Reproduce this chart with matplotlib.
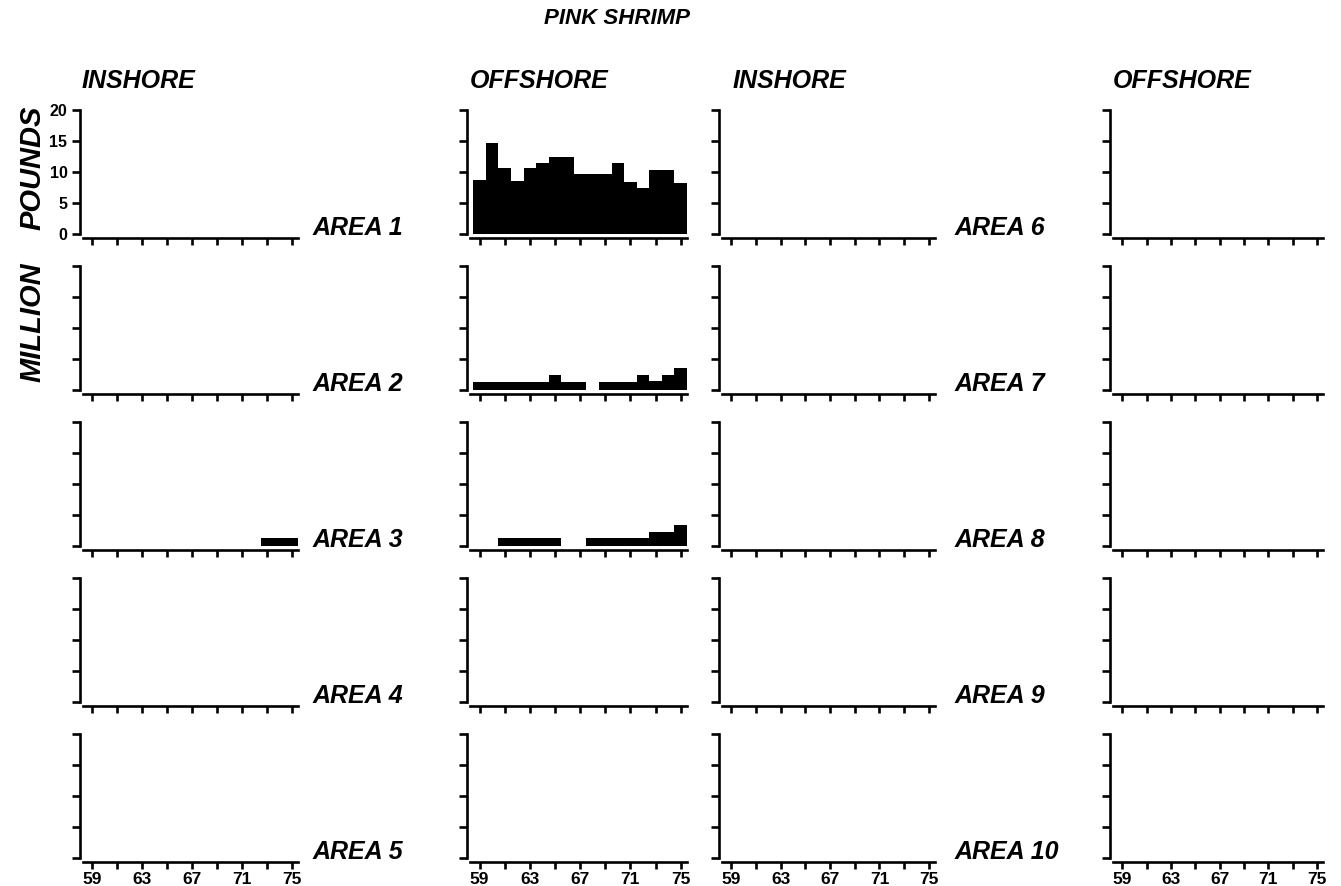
import matplotlib
matplotlib.use("Agg")
import matplotlib.pyplot as plt

plt.rcParams['font.family'] = ['Liberation Sans', 'DejaVu Sans']

# Annual pink shrimp landings, million pounds, 1959-1975
years = [1959, 1960, 1961, 1962, 1963, 1964, 1965, 1966, 1967,
         1968, 1969, 1970, 1971, 1972, 1973, 1974, 1975]

zero_catch = [0, 0, 0, 0, 0, 0, 0, 0, 0, 0, 0, 0, 0, 0, 0, 0, 0]

area1_offshore = [8.7, 14.6, 10.6, 8.5, 10.6, 11.4, 12.5, 12.5, 9.7,
                  9.7, 9.7, 11.5, 8.4, 7.5, 10.3, 10.3, 8.3]
area2_offshore = [1.3, 1.3, 1.3, 1.3, 1.3, 1.3, 2.4, 1.3, 1.3,
                  0.0, 1.3, 1.3, 1.3, 2.4, 1.5, 2.5, 3.5]
area3_offshore = [0.0, 0.0, 1.3, 1.3, 1.3, 1.3, 1.3, 0.0, 0.0,
                  1.3, 1.3, 1.3, 1.3, 1.3, 2.3, 2.3, 3.4]
area3_inshore = [0, 0, 0, 0, 0, 0, 0, 0, 0,
                 0, 0, 0, 0, 0, 1.3, 1.3, 1.3]

areas_left = ["AREA 1", "AREA 2", "AREA 3", "AREA 4", "AREA 5"]
areas_right = ["AREA 6", "AREA 7", "AREA 8", "AREA 9", "AREA 10"]
column_titles = ["INSHORE", "OFFSHORE", "INSHORE", "OFFSHORE"]

# (row, column) -> series; columns: 0 inshore 1-5, 1 offshore 1-5,
# 2 inshore 6-10, 3 offshore 6-10
catch = {
    (0, 1): area1_offshore,
    (1, 1): area2_offshore,
    (2, 1): area3_offshore,
    (2, 0): area3_inshore,
}

year_ticks = [59, 61, 63, 65, 67, 69, 71, 73, 75]
year_labels = ["59", "", "63", "", "67", "", "71", "", "75"]
pound_ticks = [0, 5, 10, 15, 20]
pound_labels = ["0", "5", "10", "15", "20"]

W, H = 1341, 886
fig = plt.figure(figsize=(W / 100, H / 100), dpi=100)
fig.patch.set_facecolor("white")

col_spans = [(80, 298), (467, 687), (719, 935), (1110, 1323)]
row_spans = [(110, 234), (266, 390), (422, 546), (578, 702), (734, 858)]


def add_panel(left, top, right, bottom):
    return fig.add_axes([left / W, 1 - bottom / H,
                         (right - left) / W, (bottom - top) / H])


lw = 1.9
for r, (top, bottom) in enumerate(row_spans):
    for c, (left, right) in enumerate(col_spans):
        ax = add_panel(left, top, right, bottom)
        values = catch.get((r, c), zero_catch)
        ax.bar([y - 1900 for y in years], values, width=1.0,
               color="black", edgecolor="none", linewidth=0)
        ax.set_xlim(58.0, 75.5)
        ax.set_ylim(0, 20)
        ax.set_facecolor("none")
        for s in ("top", "right"):
            ax.spines[s].set_visible(False)
        ax.spines["left"].set_linewidth(lw)
        ax.spines["bottom"].set_linewidth(lw)
        ax.spines["bottom"].set_position(("outward", 3))
        ax.spines["bottom"].set_bounds(58.25, 75.5)
        ax.set_xticks(year_ticks)
        ax.set_yticks(pound_ticks)
        ax.tick_params(axis="x", direction="out", length=5, width=lw,
                       pad=2, labelsize=12.5)
        ax.tick_params(axis="y", direction="out", length=6, width=lw,
                       pad=3, labelsize=11.5)
        if r == len(row_spans) - 1:
            ax.set_xticklabels(year_labels, fontweight="bold")
        else:
            ax.set_xticklabels([])
        if r == 0 and c == 0:
            ax.set_yticklabels(pound_labels, fontweight="bold")
        else:
            ax.set_yticklabels([])

label_style = dict(fontsize=18, fontweight="bold", fontstyle="italic",
                   color="black")

# Area names beside each inshore panel
for r, (top, bottom) in enumerate(row_spans):
    fig.text(313 / W, 1 - (bottom + 1) / H, areas_left[r],
             ha="left", va="baseline", **label_style)
    fig.text(955 / W, 1 - (bottom + 1) / H, areas_right[r],
             ha="left", va="baseline", **label_style)

# Column headings
header_x = [82, 470, 733, 1113]
for x, name in zip(header_x, column_titles):
    fig.text(x / W, 1 - 88 / H, name, ha="left", va="baseline",
             **label_style)

fig.text(617 / W, 1 - 24 / H, "PINK SHRIMP", ha="center", va="baseline",
         fontsize=16, fontweight="bold", fontstyle="italic")

# Unit label on the left margin
fig.text(32 / W, 1 - 168 / H, "POUNDS", rotation=90, ha="center",
         va="center", fontsize=21, fontweight="bold", fontstyle="italic")
fig.text(32 / W, 1 - 322 / H, "MILLION", rotation=90, ha="center",
         va="center", fontsize=21, fontweight="bold", fontstyle="italic")

fig.savefig("out.png", dpi=100, facecolor="white")
